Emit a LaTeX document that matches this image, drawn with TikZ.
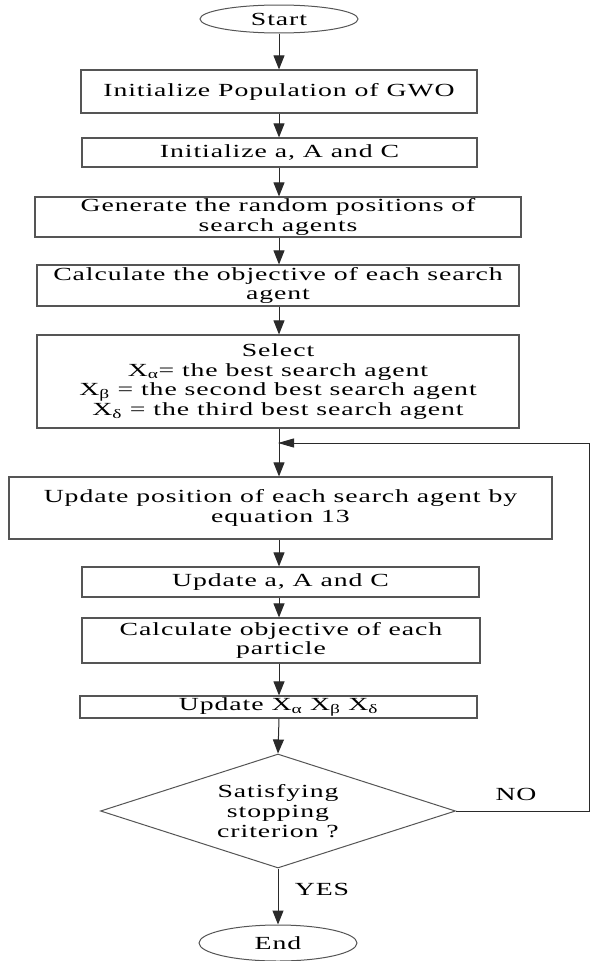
\documentclass[tikz,border=0pt]{standalone}
\usepackage{fontspec}
\setmainfont[FakeStretch=1.5,LetterSpace=5]{Liberation Serif}
\usetikzlibrary{shapes.geometric,arrows.meta}
\definecolor{boxgray}{HTML}{555555}
\definecolor{linegray}{HTML}{2a2a2a}
\newcommand{\flowfont}{\fontsize{18.5}{19.8}\selectfont}
\begin{document}
\begin{tikzpicture}[x=1pt,y=-1pt,
  box/.style={draw=boxgray, line width=1.2pt, inner sep=0pt, align=center, font=\flowfont, fill=white},
  term/.style={ellipse, draw=boxgray, line width=1pt, inner sep=0pt, font=\flowfont},
  dec/.style={diamond, aspect=3.1, draw=boxgray, line width=1pt, inner sep=0pt, align=center, font=\flowfont},
  arr/.style={draw=linegray, line width=1pt, -{Triangle[length=14pt,width=11pt]}},
  farr/.style={draw=linegray, line width=1pt, -{Triangle[length=16pt,width=9pt]}},
  lbl/.style={font=\flowfont, inner sep=0pt}]
\useasboundingbox (0,0) rectangle (592,961);
\fill[white] (0,0) rectangle (592,961);

\node[term, minimum width=158pt, minimum height=28pt] (s) at (279,19) {Start};
\node[box, minimum width=396pt, minimum height=43pt] (b1) at (279,91.5) {Initialize Population of GWO};
\node[box, minimum width=395pt, minimum height=29pt] (b2) at (279.5,152.5) {Initialize a, A and C};
\node[box, minimum width=486pt, minimum height=40pt] (b3) at (278,217) {Generate the random positions of\\search agents};
\node[box, minimum width=482pt, minimum height=41pt] (b4) at (278,285.5) {Calculate the objective of each search\\agent};
\node[box, minimum width=482pt, minimum height=93pt] (b5) at (278,381.5) {Select\\X\textsubscript{α}= the best search agent\\X\textsubscript{β} = the second best search agent\\X\textsubscript{δ} = the third best search agent};
\node[box, minimum width=543pt, minimum height=62pt] (b6) at (280.5,508) {Update position of each search agent by\\equation 13};
\node[box, minimum width=397pt, minimum height=30pt] (b7) at (280.5,582) {Update a, A and C};
\node[box, minimum width=398pt, minimum height=45pt] (b8) at (281,640.5) {Calculate objective of each\\particle};
\node[box, minimum width=397pt, minimum height=22pt] (b9) at (278.5,707) {Update X\textsubscript{α} X\textsubscript{β} X\textsubscript{δ}};
\node[dec, minimum width=355pt, minimum height=114pt] (d) at (278,811) {Satisfying\\stopping\\criterion ?};
\node[term, minimum width=158pt, minimum height=36pt] (e) at (278,943) {End};

\node[lbl] (no) at (516,794) {NO};
\node[lbl] (yes) at (322,889) {YES};

\coordinate (join) at (278,443);
\coordinate (rb) at (589,811);
\coordinate (rt) at (589,443);

\draw[arr] (s.south) -- (s.south |- b1.north);
\draw[arr] (s.south |- b1.south) -- (s.south |- b2.north);
\draw[arr] (s.south |- b2.south) -- (s.south |- b3.north);
\draw[arr] (s.south |- b3.south) -- (s.south |- b4.north);
\draw[arr] (s.south |- b4.south) -- (s.south |- b5.north);
\draw[arr] (s.south |- b5.south) -- (s.south |- b6.north);
\draw[arr] (s.south |- b6.south) -- (s.south |- b7.north);
\draw[arr] (s.south |- b7.south) -- (s.south |- b8.north);
\draw[arr] (s.south |- b8.south) -- (s.south |- b9.north);
\draw[arr] (s.south |- b9.south) -- (d.north);
\draw[arr] (d.south) -- (e.north);
\draw[draw=linegray, line width=1pt] (d.east) -- (rb) -- (rt);
\draw[farr] (rt) -- (join);
\end{tikzpicture}
\end{document}
